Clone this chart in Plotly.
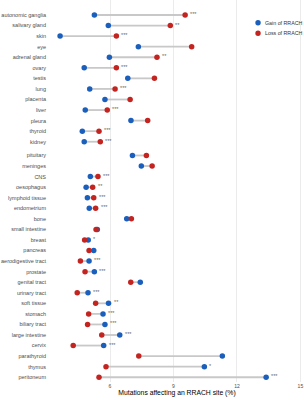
import plotly.graph_objects as go

tissues = ["autonomic ganglia", "salivary gland", "skin", "eye", "adrenal gland", "ovary",
           "testis", "lung", "placenta", "liver", "pleura", "thyroid", "kidney",
           "pituitary", "meninges", "CNS", "oesophagus", "lymphoid tissue", "endometrium",
           "bone", "small intestine", "breast", "pancreas", "aerodigestive tract", "prostate",
           "genital tract", "urinary tract", "soft tissue", "stomach", "biliary tract",
           "large intestine", "cervix", "parathyroid", "thymus", "peritoneum"]
gain = [5.26, 5.92, 3.64, 7.34, 5.97, 4.78, 6.84, 5.04, 5.76, 4.83, 6.99, 4.69, 4.78,
        7.06, 7.48, 5.07, 4.87, 4.93, 5.02, 6.79, 5.40, 4.97, 5.23, 5.01, 5.26,
        7.43, 4.96, 5.93, 5.67, 5.76, 6.46, 5.70, 11.31, 10.46, 13.38]
loss = [9.55, 8.85, 6.30, 9.86, 8.22, 6.30, 8.10, 6.24, 6.95, 5.87, 7.78, 5.48, 5.54,
        7.72, 7.99, 5.43, 5.18, 5.23, 5.32, 7.01, 5.34, 4.80, 5.01, 4.60, 4.82,
        6.98, 4.45, 5.32, 4.99, 4.94, 5.61, 4.26, 7.36, 5.81, 5.48]
signif = ["***", "**", "***", "", "**", "***", "", "***", "", "***", "", "***", "***",
          "", "", "***", "**", "***", "***", "", "", "*", "", "***", "***",
          "", "***", "**", "***", "***", "***", "***", "", "*", "***"]
group = [1] * 13 + [2] * 22
series_names = ["Gain of RRACH", "Loss of RRACH"]

GAP = 0.3
ypos = [-(i + (GAP if g == 2 else 0)) for i, g in enumerate(group)]

BLUE = "#1b5fbd"
RED = "#c42420"
COLORS = [BLUE, RED]
FONT = "Liberation Sans"

fig = go.Figure()

sx, sy = [], []
for g, l, y in zip(gain, loss, ypos):
    sx += [g, l, None]
    sy += [y, y, None]
fig.add_trace(go.Scatter(x=sx, y=sy, mode="lines", line=dict(color="#c8c8c8", width=1.8),
                         hoverinfo="skip", showlegend=False))
fig.add_trace(go.Scatter(x=gain, y=ypos, mode="markers", name=series_names[0],
                         marker=dict(color=BLUE, size=5.5, line=dict(width=0)), showlegend=False))
fig.add_trace(go.Scatter(x=loss, y=ypos, mode="markers", name=series_names[1],
                         marker=dict(color=RED, size=5.5, line=dict(width=0)), showlegend=False))

for g, l, y, s in zip(gain, loss, ypos, signif):
    if s:
        fig.add_annotation(x=max(g, l), y=y, text=s, showarrow=False, xanchor="left",
                           yanchor="middle", xshift=3, yshift=1,
                           font=dict(family=FONT, size=5.5, color="#666666"))

# manual legend
leg_x, leg_y0, leg_dy = 0.819, 0.9406, 0.0278
for k, (name, col) in enumerate(zip(series_names, COLORS)):
    yy = leg_y0 - k * leg_dy
    fig.add_shape(type="circle", xref="paper", yref="paper", xsizemode="pixel",
                  ysizemode="pixel", xanchor=leg_x, yanchor=yy, x0=-2.7, x1=2.7,
                  y0=-2.7, y1=2.7, fillcolor=col, line=dict(width=0))
    fig.add_annotation(xref="paper", yref="paper", x=leg_x, y=yy, xshift=5, text=name,
                       showarrow=False, xanchor="left", yanchor="middle",
                       font=dict(family=FONT, size=5.3, color="#333333"))

fig.update_layout(
    width=304, height=400,
    margin=dict(l=50, r=0, t=0, b=18, autoexpand=False),
    paper_bgcolor="white", plot_bgcolor="white",
    font=dict(family=FONT, size=6, color="#4d4d4d"),
    showlegend=False,
    xaxis=dict(range=[3.163, 15.17], tickvals=[6, 9, 12, 15], showgrid=True,
               gridcolor="#ebebeb", gridwidth=1, zeroline=False, showline=False,
               ticks="", tickfont=dict(size=5, color="#4d4d4d"),
               title=dict(text="Mutations affecting an RRACH site (%)",
                          font=dict(family=FONT, size=6.8, color="#000000"), standoff=2)),
    yaxis=dict(range=[-34.75, 1.42], tickvals=ypos, ticktext=tissues, showgrid=False,
               zeroline=False, showline=False, ticks="", ticklabelstandoff=3,
               tickfont=dict(size=5.5, color="#4d4d4d")),
)

fig.write_html("out.html")
